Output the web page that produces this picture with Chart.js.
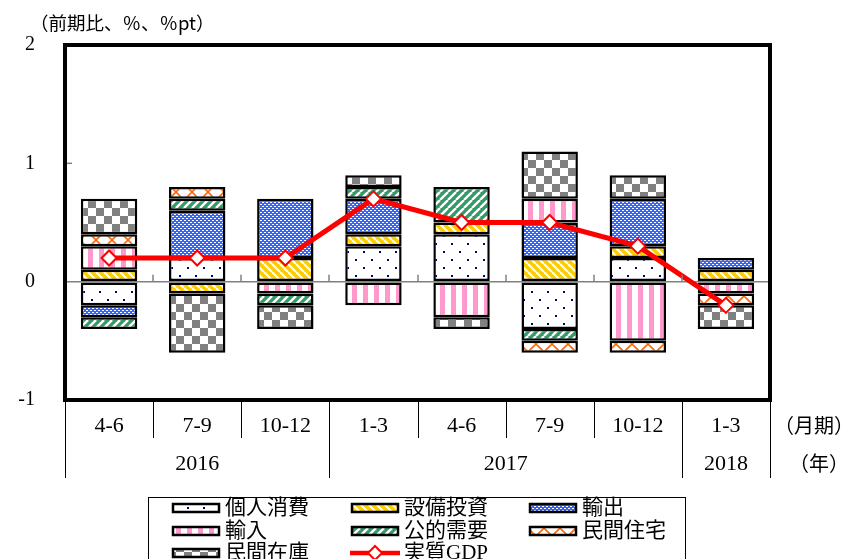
<!DOCTYPE html>
<html><head><meta charset="utf-8">
<script src="https://cdn.jsdelivr.net/npm/chart.js@4/dist/chart.umd.min.js"></script>
<style>html,body{margin:0;padding:0;background:#fff;}canvas{display:block;}</style>
</head><body>
<canvas id="c" width="850" height="559"></canvas>
<script>
// ---- data ----
const quarters = ['4-6','7-9','10-12','1-3','4-6','7-9','10-12','1-3'];
const years = ['2016','2017','2018'];
const yearSpans = [3, 4, 1];
const yTicks = [-1, 0, 1, 2];
const seriesNames = ['個人消費','設備投資','輸出','輸入','公的需要','民間住宅','民間在庫','実質GDP'];
const privateConsumption = [-0.2, 0.2, 0.0, 0.3, 0.4, -0.4, 0.2, 0.0];
const capitalInvestment  = [ 0.1,-0.1, 0.2, 0.1, 0.1,  0.2, 0.1, 0.1];
const exportsC           = [-0.1, 0.4, 0.5, 0.3, 0.0,  0.3, 0.4, 0.1];
const importsC           = [ 0.2, 0.0,-0.1,-0.2,-0.3,  0.2,-0.5,-0.1];
const publicDemand       = [-0.1, 0.1,-0.1, 0.1, 0.3, -0.1, 0.0, 0.0];
const privateHousing     = [ 0.1, 0.1, 0.0, 0.0, 0.0, -0.1,-0.1,-0.1];
const privateInventory   = [ 0.3,-0.5,-0.2, 0.1,-0.1,  0.4, 0.2,-0.2];
const realGDP            = [ 0.2, 0.2, 0.2, 0.7, 0.5,  0.5, 0.3,-0.2];

// ---- patterns ----
const canvas = document.getElementById('c');
const ctx = canvas.getContext('2d');
function pat(w, h, draw) {
  const c = document.createElement('canvas'); c.width = w; c.height = h;
  const g = c.getContext('2d'); draw(g, w, h); return ctx.createPattern(c, 'repeat');
}
const pDots = pat(16, 16, (g) => { g.fillStyle = '#fff'; g.fillRect(0,0,16,16); g.fillStyle = '#000080'; g.fillRect(3,3,2,2); g.fillRect(11,11,2,2); });
const pYellow = pat(8, 8, (g) => { g.fillStyle = '#FFCC00'; g.fillRect(0,0,8,8); g.strokeStyle = '#fff'; g.lineWidth = 2.2;
  for (const o of [-8, 0, 8]) { g.beginPath(); g.moveTo(o, 0); g.lineTo(o + 8, 8); g.stroke(); } });
const pBlue = pat(4, 4, (g) => { g.fillStyle = '#3366FF'; g.fillRect(0,0,4,4); g.fillStyle = '#fff'; g.fillRect(0,0,1,1); g.fillRect(2,2,1,1); g.fillRect(1,0,1,1); g.fillRect(3,2,1,1); });
const pPink = pat(11, 4, (g) => { g.fillStyle = '#fff'; g.fillRect(0,0,11,4); g.fillStyle = '#FF99CC'; g.fillRect(0,0,5,4); });
const pGreen = pat(8, 8, (g) => { g.fillStyle = '#339966'; g.fillRect(0,0,8,8); g.strokeStyle = '#fff'; g.lineWidth = 2.4;
  for (const o of [-8, 0, 8]) { g.beginPath(); g.moveTo(o, 8); g.lineTo(o + 8, 0); g.stroke(); } });
const pOrange = pat(16, 16, (g) => { g.fillStyle = '#fff'; g.fillRect(0,0,16,16); g.strokeStyle = '#FF6600'; g.lineWidth = 1.6;
  g.beginPath(); g.moveTo(0,16); g.lineTo(16,0); g.moveTo(0,0); g.lineTo(16,16); g.stroke(); });
const pGray = pat(16, 16, (g) => { g.fillStyle = '#fff'; g.fillRect(0,0,16,16); g.fillStyle = '#808080'; g.fillRect(0,0,8,8); g.fillRect(8,8,8,8); });

const FONT = '"Liberation Serif", "Noto Sans CJK JP", serif';
const barSeries = [privateConsumption, capitalInvestment, exportsC, importsC, publicDemand, privateHousing, privateInventory];
const barFills = [pDots, pYellow, pBlue, pPink, pGreen, pOrange, pGray];

const datasets = barSeries.map((d, i) => ({
  type: 'bar', label: seriesNames[i], data: d, backgroundColor: barFills[i],
  borderColor: '#000', borderWidth: 2.5, borderSkipped: false,
  barPercentage: 0.64, categoryPercentage: 1, stack: 'c', order: 1
}));
datasets.push({
  type: 'line', label: seriesNames[7], data: realGDP, stack: 'gdp', order: 0,
  borderColor: '#FF0000', borderWidth: 5, pointStyle: 'rectRot', pointRadius: 7.5,
  pointBackgroundColor: '#fff', pointBorderColor: '#FF0000', pointBorderWidth: 2, tension: 0
});

const decor = {
  id: 'decor',
  afterDraw(chart) {
    const { ctx, chartArea: a, scales: { x, y } } = chart;
    const n = quarters.length;
    const w = (a.right - a.left) / n;
    ctx.save();
    // zero-line ticks
    const y0 = y.getPixelForValue(0);
    ctx.strokeStyle = '#808080'; ctx.lineWidth = 1.5;
    for (let i = 1; i < n; i++) {
      const bx = Math.round(a.left + i * w);
      ctx.beginPath(); ctx.moveTo(bx, y0); ctx.lineTo(bx, y0 - 7); ctx.stroke();
    }
    const y1 = y.getPixelForValue(1);
    ctx.beginPath(); ctx.moveTo(a.left, y1); ctx.lineTo(a.left + 7, y1); ctx.stroke();
    // frame
    ctx.strokeStyle = '#000'; ctx.lineWidth = 4;
    ctx.strokeRect(a.left, a.top, a.right - a.left, a.bottom - a.top);
    // separators
    ctx.lineWidth = 1;
    const bounds = new Set([0]); let acc = 0;
    yearSpans.forEach(s => { acc += s; bounds.add(acc); });
    for (let i = 0; i <= n; i++) {
      const bx = Math.round(a.left + i * w) + 0.5;
      ctx.beginPath(); ctx.moveTo(bx, a.bottom + 2); ctx.lineTo(bx, bounds.has(i) ? a.bottom + 78 : a.bottom + 38); ctx.stroke();
    }
    // years
    ctx.fillStyle = '#000'; ctx.font = '22px ' + FONT; ctx.textAlign = 'center'; ctx.textBaseline = 'middle';
    acc = 0;
    years.forEach((yr, i) => {
      const cx = a.left + (acc + yearSpans[i] / 2) * w; acc += yearSpans[i];
      ctx.fillText(yr, cx, 464);
    });
    ctx.textAlign = 'left';
    ctx.font = '20px "Noto Sans CJK JP", sans-serif';
    ctx.fillText('（月期）', 774, 425);
    ctx.fillText('（年）', 789, 463);
    // title
    ctx.font = '18.5px "Noto Sans CJK JP", sans-serif';
    ctx.fillText('（前期比、％、％pt）', 30, 23);
    // legend
    ctx.lineWidth = 1; ctx.strokeStyle = '#000';
    ctx.strokeRect(148.5, 497.5, 537, 80);
    const cols = [173, 352, 530], rows = [508, 531, 553];
    ctx.font = '21px ' + FONT; ctx.textBaseline = 'middle';
    seriesNames.forEach((nm, i) => {
      const cx = cols[i % 3], cy = rows[Math.floor(i / 3)];
      if (i < 7) {
        ctx.fillStyle = barFills[i]; ctx.fillRect(cx, cy - 4, 46, 8);
        ctx.lineWidth = 2.5; ctx.strokeStyle = '#000'; ctx.strokeRect(cx, cy - 4, 46, 8);
      } else {
        ctx.strokeStyle = '#FF0000'; ctx.lineWidth = 4.5;
        ctx.beginPath(); ctx.moveTo(cx - 2, cy); ctx.lineTo(cx + 48, cy); ctx.stroke();
        ctx.fillStyle = '#fff'; ctx.lineWidth = 2;
        ctx.beginPath(); ctx.moveTo(cx + 23, cy - 7); ctx.lineTo(cx + 30, cy); ctx.lineTo(cx + 23, cy + 7); ctx.lineTo(cx + 16, cy); ctx.closePath();
        ctx.fill(); ctx.stroke();
      }
      ctx.fillStyle = '#000';
      ctx.fillText(nm, cx + 52, cy);
    });
    ctx.restore();
  }
};

new Chart(ctx, {
  data: { labels: quarters, datasets },
  options: {
    responsive: false, animation: false,
    layout: { padding: { left: 0, right: 80, top: 45, bottom: 0 } },
    plugins: { legend: { display: false }, tooltip: { enabled: false } },
    scales: {
      x: {
        stacked: true,
        grid: { display: false, drawTicks: false }, border: { display: false },
        ticks: { color: '#000', font: { size: 22, family: FONT }, padding: 13, maxRotation: 0, autoSkip: false },
        afterFit(s) { s.height = 159; }
      },
      y: {
        stacked: true, min: -1, max: 2,
        afterBuildTicks(s) { s.ticks = yTicks.map(v => ({ value: v })); },
        grid: { color: (c) => (c.tick && c.tick.value === 0 ? '#808080' : 'rgba(0,0,0,0)'), lineWidth: 1.5, drawTicks: false },
        border: { display: false },
        ticks: { color: '#000', font: { size: 20, family: FONT }, padding: 30 },
        afterFit(s) { s.width = 65; }
      }
    }
  },
  plugins: [decor]
});
</script>
</body></html>
